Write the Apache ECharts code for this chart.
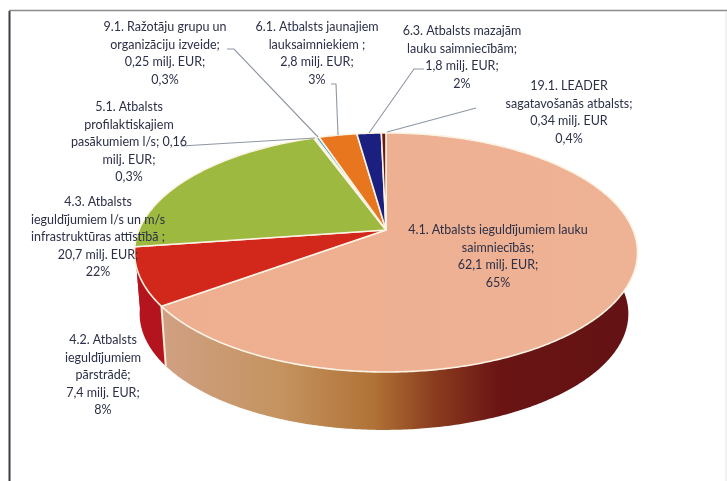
<!DOCTYPE html>
<html><head><meta charset="utf-8">
<style>html,body{margin:0;padding:0;background:#fff}#c{width:727px;height:481px}</style>
<script src="https://cdn.jsdelivr.net/npm/echarts@6/dist/echarts.min.js"></script>
</head><body><div id="c"></div>
<script>
var categories = ["4.1","4.2","4.3","5.1","9.1","6.1","6.3","19.1"];
var valuesMEUR = [62.1,7.4,20.7,0.16,0.25,2.8,1.8,0.34];
var labelTexts = [
 "4.1. Atbalsts ieguldījumiem lauku\nsaimniecībās;\n62,1 milj. EUR;\n65%",
 "4.2. Atbalsts\nieguldījumiem\npārstrādē;\n7,4 milj. EUR;\n8%",
 "4.3. Atbalsts\nieguldījumiem l/s un m/s\ninfrastruktūras attīstībā ;\n20,7 milj. EUR;\n22%",
 "5.1. Atbalsts\nprofilaktiskajiem\npasākumiem l/s; 0,16\nmilj. EUR;\n0,3%",
 "9.1. Ražotāju grupu un\norganizāciju izveide;\n0,25 milj. EUR;\n0,3%",
 "6.1. Atbalsts jaunajiem\nlauksaimniekiem ;\n2,8 milj. EUR;\n3%",
 "6.3. Atbalsts mazajām\nlauku saimniecībām;\n1,8 milj. EUR;\n2%",
 "19.1. LEADER\nsagatavošanās atbalsts;\n0,34 milj. EUR\n0,4%"
];
var topColors = ["#EFB193","#D2281C","#9DB93F","#EAF0EE","#45A5CC","#E8761E","#1B2080","#6E1A12"];
var sideColors = ["#C98F62","#B4141E","#B4141E","#CCCCCC","#2F7FA0","#B85A14","#101560","#4E1008"];

var labelPos = [[498,221.5],[103,331.5],[98,193.5],[129,98.5],[165,18.5],[317,18.5],[462,22.5],[569,77.5]];
var leaders = [
 [[227,49],[234,49],[318,137]],
 [[331,84],[336,84],[338,135]],
 [[424,69],[414,69],[369,133]],
 [[476,108],[387,132]],
 [[181,146],[315,138]]
];

var total = valuesMEUR.reduce(function(a,b){return a+b;},0);
var starts = [], acc = 0;
valuesMEUR.forEach(function(v){ starts.push(acc); acc += v; });

var K = 0.188;
var TOP = {cx:386, cy:230, rx:247, ry:115.3};
var BOT = {cx:384, cy:292, rx:240, ry:112};
function proj(d, a){
  var u = Math.sin(a), v = -Math.cos(a), w = 1 - K*v;
  return [d.cx + d.rx*u/w, d.cy + d.ry*v/w];
}
function arc(d, a0, a1){
  var n = Math.max(2, Math.ceil((a1-a0)/0.01)), p = [];
  for (var i=0;i<=n;i++) p.push(proj(d, a0 + (a1-a0)*i/n));
  return p;
}
function ang(v){ return v/total*Math.PI*2; }

var sideGrad = new echarts.graphic.LinearGradient(165,0,630,0,[
 {offset:0,color:"#D0A083"},{offset:0.25,color:"#C4935F"},{offset:0.45,color:"#B07236"},
 {offset:0.58,color:"#8A3C1E"},{offset:0.72,color:"#6A1414"},{offset:1,color:"#641214"}
],true);
var topGrad = new echarts.graphic.LinearGradient(135,0,638,0,[
 {offset:0,color:"#EFAE90"},{offset:1,color:"#EEB294"}
],true);

var seriesData = valuesMEUR.map(function(v,i){ return {name:categories[i], value:[v,starts[i]]}; });

var option = {
  animation:false,
  backgroundColor:"#fff",
  graphic:{elements:[].concat(
    [{type:"line",silent:true,z:1,shape:{x1:9.5,y1:11,x2:9.5,y2:481},style:{stroke:"#3A3D44",lineWidth:2}},
     {type:"line",silent:true,z:1,shape:{x1:9,y1:10.5,x2:727,y2:10.5},style:{stroke:"#8C8C8C",lineWidth:1.5}},
     {type:"line",silent:true,z:1,shape:{x1:726,y1:11,x2:726,y2:481},style:{stroke:"#E4E4E4",lineWidth:1}}],
    leaders.map(function(p){ return {type:"polyline",silent:true,z:5,shape:{points:p},style:{stroke:"#8F97A3",lineWidth:1.1,fill:null}}; }),
    labelTexts.map(function(t,i){ return {type:"text",silent:true,z:6,x:labelPos[i][0],y:labelPos[i][1],
      style:{text:t,fill:"#2C3048",font:"12.5px Lato",textAlign:"center",textVerticalAlign:"top",lineHeight:17.5}}; })
  )},
  series:[
   {type:"custom",coordinateSystem:"none",z:2,data:seriesData,
    renderItem:function(params,api){
      var i=params.dataIndex, a0=ang(api.value(1)), a1=a0+ang(api.value(0));
      var pts=arc(TOP,a0,a1).concat(arc(BOT,a0,a1).reverse());
      var ch=[{type:"polygon",shape:{points:pts},style:{fill:i===0?sideGrad:sideColors[i],stroke:null}}];
      if(Math.abs(a1-ang(valuesMEUR[0]))<1e-6){
        var p=proj(TOP,a1),q=proj(BOT,a1);
        ch.push({type:"line",z2:3,shape:{x1:p[0],y1:p[1],x2:q[0],y2:q[1]},style:{stroke:"#F8EBD6",lineWidth:2}});
      }
      return {type:"group",children:ch};
    }},
   {type:"custom",coordinateSystem:"none",z:3,data:seriesData,
    renderItem:function(params,api){
      var i=params.dataIndex, a0=ang(api.value(1)), a1=a0+ang(api.value(0));
      var pts=[[TOP.cx,TOP.cy]].concat(arc(TOP,a0,a1));
      return {type:"polygon",shape:{points:pts},style:{fill:i===0?topGrad:topColors[i],stroke:"#FBF3E4",lineWidth:1.6,lineJoin:"round"}};
    }}
  ]
};
var chart = echarts.init(document.getElementById("c"),null,{renderer:"canvas"});
chart.setOption(option);
</script></body></html>
